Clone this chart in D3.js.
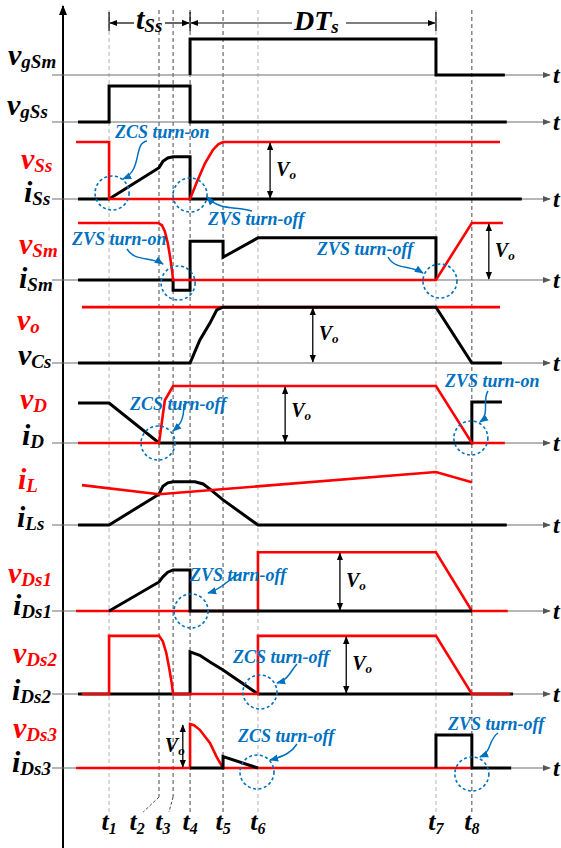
<!DOCTYPE html>
<html><head><meta charset="utf-8">
<script src="https://cdn.jsdelivr.net/npm/d3@7"></script>
<style>body{margin:0;background:#fff}svg{display:block}</style>
</head><body>
<svg id="c" width="561" height="848"></svg>
<script>
// ---------- DATA (time units 0..100, values relative to row amplitude) ----------
const eventNames = ["t1","t2","t3","t4","t5","t6","t7","t8"];
const eventTimes = [9.5, 19.8, 22.7, 26.2, 33.0, 40.2, 76.9, 84.3];
const eventLabelTimes = [9.5, 15.3, 20.6, 26.2, 33.0, 40.2, 76.9, 84.3];
const eventDark = [false, true, true, true, true, false, false, true];

const vgSm = [[26.2,0],[26.2,1],[76.9,1],[76.9,0],[91.1,0]];
const vgSs = [[3.1,0],[9.5,0],[9.5,1],[26.2,1],[26.2,0],[91.5,0]];
const vSs  = [[2.7,1],[9.5,1],[9.5,0],[26.2,0],[27.6,0.3],[29.3,0.63],[30.9,0.86],[32.0,0.96],[33.0,1],[90.1,1]];
const iSs  = [[3.1,0],[9.5,0],[19.8,0.55],[20.6,0.66],[21.6,0.72],[22.7,0.74],[26.2,0.74],[26.2,0],[94.6,0]];
const vSm  = [[3.1,1],[19.6,1],[20.4,0.96],[21.0,0.85],[21.6,0.65],[22.1,0.4],[22.5,0.15],[22.7,0],[76.9,0],[84.3,1],[90.7,1]];
const iSm  = [[3.1,0],[22.7,0],[22.7,-0.18],[26.2,-0.18],[26.2,0.68],[33.0,0.68],[33.0,0.4],[40.2,0.74],[76.9,0.74],[76.9,0]];
const vo   = [[3.9,0.98],[90.1,0.98]];
const vCs  = [[3.1,0],[26.2,0],[28.2,0.4],[30.3,0.7],[31.7,0.93],[33.0,0.98],[76.9,0.98],[84.3,0],[90.5,0]];
const vD   = [[3.1,0],[19.8,0],[21.0,0.75],[22.7,1],[76.9,1],[84.3,0],[91.1,0]];
const iD   = [[3.1,0.7],[9.5,0.7],[19.8,0],[84.3,0],[84.3,0.72],[90.5,0.72]];
const iL   = [[3.9,0.7],[19.8,0.54],[76.9,0.93],[84.3,0.75]];
const iLs  = [[3.1,0],[9.5,0],[19.8,0.54],[20.6,0.68],[21.6,0.74],[22.7,0.76],[27.2,0.76],[28.9,0.72],[30.3,0.63],[33.0,0.44],[40.2,0],[91.5,0]];
const vDs1 = [[2.7,0],[40.2,0],[40.2,1.03],[76.9,1.03],[84.3,0],[91.7,0]];
const iDs1 = [[9.5,0],[19.8,0.51],[20.6,0.6],[21.6,0.68],[22.7,0.72],[26.2,0.72],[26.2,0],[84.3,0]];
const vDs2 = [[3.9,0],[9.5,0],[9.5,1.02],[19.8,1.02],[20.6,0.92],[21.3,0.72],[21.9,0.45],[22.4,0.2],[22.7,0],[40.2,0],[40.2,1.02],[76.9,1.02],[84.3,0],[92.2,0]];
const iDs2 = [[3.1,0],[26.2,0],[26.2,0.74],[28.2,0.68],[30.3,0.56],[33.0,0.42],[40.2,0],[92.8,0]];
const vDs3 = [[2.7,0],[26.2,0],[26.2,0.77],[27.0,0.75],[28.2,0.67],[30.3,0.44],[31.7,0.19],[33.0,0],[84.0,0]];
const iDs3 = [[26.2,0],[33.0,0],[33.0,0.2],[40.2,0],null,[76.9,0],[76.9,0.58],[84.3,0.58],[84.3,0],[92.4,0]];

const rowLabels = [
  [["v","gSm","#000"]],
  [["v","gSs","#000"]],
  [["v","Ss","#f00"],["i","Ss","#000"]],
  [["v","Sm","#f00"],["i","Sm","#000"]],
  [["v","o","#f00"],["v","Cs","#000"]],
  [["v","D","#f00"],["i","D","#000"]],
  [["i","L","#f00"],["i","Ls","#000"]],
  [["v","Ds1","#f00"],["i","Ds1","#000"]],
  [["v","Ds2","#f00"],["i","Ds2","#000"]],
  [["v","Ds3","#f00"],["i","Ds3","#000"]]
];
// Vo arrows: [row, time, top value]
const voArrows = [[2,42.7,1],[3,87.8,1],[4,51.5,0.98],[5,45.8,1],[7,57.1,1.03],[8,58.4,1.02],[9,24.7,0.77]];
// annotations: text, event index, row
const annText = ["ZCS turn-on","ZVS turn-off","ZVS turn-on","ZVS turn-off","ZCS turn-off","ZVS turn-on","ZVS turn-off","ZCS turn-off","ZCS turn-off","ZVS turn-off"];
const annEvent = [0,3,2,6,1,7,3,5,5,7];
const annRow   = [2,2,3,3,5,5,7,8,9,9];

// ---------- LAYOUT ----------
const rowBase = [75,122,199,280,363,443,525,611,694,768];
const rowAmp  = [36,36,57,57,57,57,57,57,57,57];
const labelPos = [ // [x, baseline] per label
  [[8,65]],[[7,115]],
  [[21,169],[24,202]],
  [[19,254],[19,288]],
  [[17,330],[18,365]],
  [[20,409],[22,445]],
  [[18,489],[17,527]],
  [[8,583],[13,615]],
  [[13,663],[12,700]],
  [[13,738],[12,772]]
];
const annTextPos = [[115,138],[208,225],[72,245],[317,255],[130,410],[445,387],[190,581],[233,663],[238,742],[448,730]];
const annCircleOff = [[3,-6],[0,-4],[5,3],[4,1],[-1,0],[-1,-5],[1,0],[2,-2],[-1,4],[0,6]];
const annPath = [
  "M147,141 C133,143 143,170 123,179",
  "M252,211 C235,206 220,211 207,197",
  "M127,249 C135,262 150,256 163,264",
  "M388,257 C395,270 410,265 423,273",
  "M184,404 C184,420 180,425 173,431",
  "M488,391 C482,400 490,415 480,422",
  "M240,574 C228,578 225,588 208,593",
  "M297,664 C290,672 288,680 277,683",
  "M297,744 C292,752 285,756 270,760",
  "M498,733 C488,740 492,752 480,757"
];

const svg = d3.select("#c");
const FONT = "'Liberation Serif','Times New Roman',serif";
const BLUE = "#0070C0";
const X = d3.scaleLinear().domain([0,100]).range([63,548]);
const Y = rowBase.map((b,i)=>d3.scaleLinear().domain([0,1]).range([b, b-rowAmp[i]]));

const defs = svg.append("defs");
function marker(id,color,size){
  defs.append("marker").attr("id",id).attr("viewBox","0 0 10 10").attr("refX",9).attr("refY",5)
    .attr("markerWidth",size).attr("markerHeight",size).attr("orient","auto-start-reverse")
    .attr("markerUnits","userSpaceOnUse")
    .append("path").attr("d","M0,1 L10,5 L0,9 z").attr("fill",color);
}
marker("ag","#555",8); marker("ak","#000",8); marker("ab",BLUE,9); marker("ax","#000",10);

// dashed event lines
eventTimes.forEach((t,i)=>{
  const x = X(t);
  const short = (i===1||i===2);
  svg.append("line").attr("x1",x).attr("x2",x).attr("y1",10).attr("y2",short?797:812)
    .attr("stroke",eventDark[i]?"#4a4a4a":"#b4b4b4").attr("stroke-width",1).attr("stroke-dasharray","4,3");
  if(short){
    svg.append("line").attr("x1",x).attr("y1",797).attr("x2",X(eventLabelTimes[i])+6).attr("y2",812)
      .attr("stroke","#4a4a4a").attr("stroke-width",1).attr("stroke-dasharray","3,2");
  }
  const tx = svg.append("text").attr("x",X(eventLabelTimes[i])).attr("y",830).attr("text-anchor","middle")
    .attr("font-family",FONT).attr("font-style","italic").attr("font-weight","bold");
  tx.append("tspan").attr("font-size",26).text("t");
  tx.append("tspan").attr("font-size",16).attr("dy",4).text(eventNames[i].slice(1));
});

// main vertical axis
svg.append("line").attr("x1",63).attr("x2",63).attr("y1",848).attr("y2",6)
  .attr("stroke","#000").attr("stroke-width",2).attr("marker-end","url(#ax)");

// row axes
rowBase.forEach((b,i)=>{
  svg.append("line").attr("x1",52).attr("x2",550).attr("y1",b).attr("y2",b)
    .attr("stroke","#6e6e6e").attr("stroke-width",1.2).attr("marker-end","url(#ag)");
  svg.append("text").attr("x",553).attr("y",b+8).attr("font-family",FONT).attr("font-style","italic")
    .attr("font-weight","bold").attr("font-size",24).text("t");
});

// waveforms
const line = d3.line().defined(d=>d!==null);
function wave(row,data,color){
  line.x(d=>X(d[0])).y(d=>Y[row](d[1]));
  svg.append("path").attr("d",line(data)).attr("fill","none").attr("stroke",color)
    .attr("stroke-width",color==="#000"?3:2.6).attr("stroke-linejoin","miter");
}
const R="#ff0000", K="#000";
wave(0,vgSm,K); wave(1,vgSs,K);
wave(2,iSs,K); wave(2,vSs,R);
wave(3,iSm,K); wave(3,vSm,R);
wave(4,vo,R); wave(4,vCs,K);
wave(5,iD,K); wave(5,vD,R);
wave(6,iLs,K); wave(6,iL,R);
wave(7,vDs1,R); wave(7,iDs1,K);
wave(8,iDs2,K); wave(8,vDs2,R);
wave(9,vDs3,R); wave(9,iDs3,K);

// row labels
rowLabels.forEach((labs,r)=>{
  labs.forEach((l,j)=>{
    const p = labelPos[r][j];
    const t = svg.append("text").attr("x",p[0]).attr("y",p[1]).attr("fill",l[2])
      .attr("font-family",FONT).attr("font-style","italic").attr("font-weight","bold");
    t.append("tspan").attr("font-size",30).text(l[0]);
    t.append("tspan").attr("font-size",19).attr("dy",3).text(l[1]);
  });
});

// Vo arrows
voArrows.forEach((a,k)=>{
  const [r,t,v] = a;
  const x = X(t), y0 = Y[r](0), y1 = Y[r](v);
  svg.append("line").attr("x1",x).attr("x2",x).attr("y1",y0-1).attr("y2",y1+1)
    .attr("stroke","#000").attr("stroke-width",1.3)
    .attr("marker-start","url(#ak)").attr("marker-end","url(#ak)");
  const mid = (y0+y1)/2;
  const left = (r===9);
  const t2 = svg.append("text").attr("x",left?x-18:x+6).attr("y",left?mid+6:(r===5?mid+2:mid+5))
    .attr("font-family",FONT).attr("font-style","italic").attr("font-weight","bold");
  t2.append("tspan").attr("font-size",20).text("V");
  t2.append("tspan").attr("font-size",13).attr("dy",3).text("o");
});

// top interval arrows
function hArrow(x1,x2,y){ // arrow head at x2
  svg.append("line").attr("x1",x1).attr("x2",x2).attr("y1",y).attr("y2",y)
    .attr("stroke","#000").attr("stroke-width",1.2).attr("marker-end","url(#ak)");
}
[eventTimes[0],eventTimes[3],eventTimes[6]].forEach(t=>{
  svg.append("line").attr("x1",X(t)).attr("x2",X(t)).attr("y1",12).attr("y2",31).attr("stroke","#000").attr("stroke-width",1.2);
});
hArrow(134,X(eventTimes[0])+1,23); hArrow(165,X(eventTimes[3])-1,23);
hArrow(292,X(eventTimes[3])+1,23); hArrow(346,X(eventTimes[6])-1,23);
let tt = svg.append("text").attr("x",136).attr("y",29).attr("font-family",FONT).attr("font-style","italic").attr("font-weight","bold");
tt.append("tspan").attr("font-size",30).text("t");
tt.append("tspan").attr("font-size",19).attr("dy",3).text("Ss");
tt = svg.append("text").attr("x",294).attr("y",30).attr("font-family",FONT).attr("font-style","italic").attr("font-weight","bold");
tt.append("tspan").attr("font-size",28).text("DT");
tt.append("tspan").attr("font-size",19).attr("dy",3).text("s");

// annotations
annText.forEach((s,k)=>{
  const cx = X(eventTimes[annEvent[k]]) + annCircleOff[k][0];
  const cy = Y[annRow[k]](0) + annCircleOff[k][1];
  svg.append("circle").attr("cx",cx).attr("cy",cy).attr("r",17).attr("fill","none")
    .attr("stroke",BLUE).attr("stroke-width",1.6).attr("stroke-dasharray","3,2.5");
  svg.append("path").attr("d",annPath[k]).attr("fill","none").attr("stroke",BLUE).attr("stroke-width",1.5)
    .attr("marker-end","url(#ab)");
  svg.append("text").attr("x",annTextPos[k][0]).attr("y",annTextPos[k][1]).attr("fill",BLUE)
    .attr("font-family",FONT).attr("font-style","italic").attr("font-weight","bold").attr("font-size",18).text(s);
});
</script>
</body></html>
